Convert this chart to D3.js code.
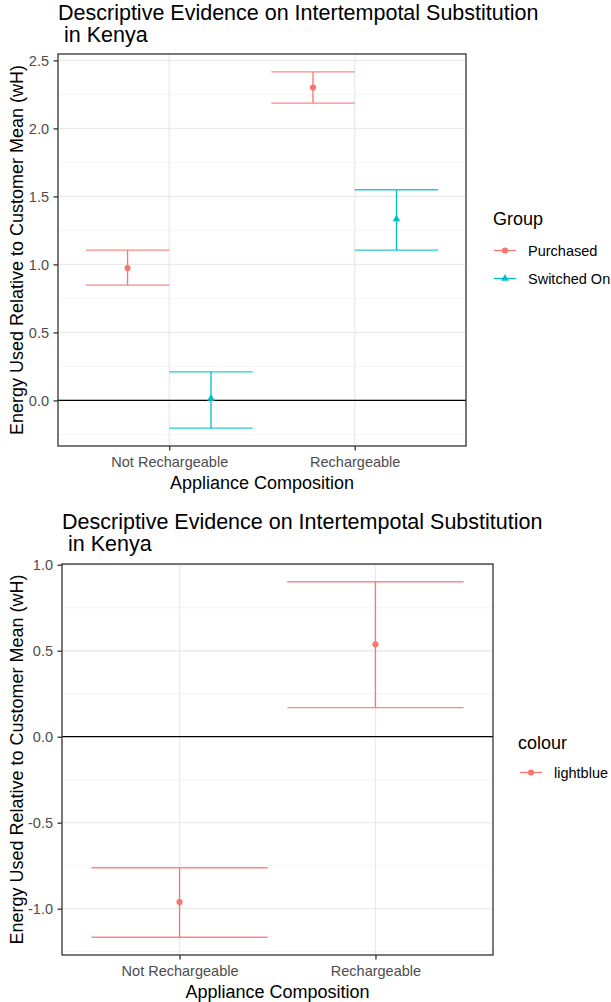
<!DOCTYPE html>
<html>
<head>
<meta charset="utf-8">
<script src="https://d3js.org/d3.v7.min.js"></script>
<style>
    body { margin: 0; background: #fff; }
    svg text { font-family: "Liberation Sans", Arial, sans-serif; }
</style>
</head>
<body>
<div id="graph"></div>
<script>
// data
var categories = ["Not Rechargeable", "Rechargeable"];
var groups = ["Purchased", "Switched On"];

var purchasedMean = [0.973, 2.300];
var purchasedLow = [0.848, 2.186];
var purchasedHigh = [1.105, 2.416];

var switchedMean = [0.015, 1.333];
var switchedLow = [-0.204, 1.105];
var switchedHigh = [0.210, 1.549];

var colourGroups = ["lightblue"];
var colourMean = [-0.961, 0.537];
var colourLow = [-1.166, 0.169];
var colourHigh = [-0.762, 0.901];

var topTicks = [0, 0.5, 1, 1.5, 2, 2.5];
var topMinor = [-0.25, 0.25, 0.75, 1.25, 1.75, 2.25];
var bottomTicks = [-1, -0.5, 0, 0.5, 1];
var bottomMinor = [-1.25, -0.75, -0.25, 0.25, 0.75];

var titleLines = ["Descriptive Evidence on Intertempotal Substitution", " in Kenya"];
var yTitle = "Energy Used Relative to Customer Mean (wH)";
var xTitle = "Appliance Composition";

var palette = ["#F8766D", "#00BFC4"];

var svg = d3.select("#graph").append("svg")
    .attr("width", 611)
    .attr("height", 1002);

function makeRows(means, lows, highs) {
    return categories.map(function(c, i) {
        return { cat: c, mean: means[i], low: lows[i], high: highs[i] };
    });
}

function drawPanel(opt) {
    var left = opt.left, right = opt.right, top = opt.top, bottom = opt.bottom;
    var g = svg.append("g");

    // ggplot style 5% expansion of the data range
    var lo = d3.min(opt.series, function(s) { return d3.min(s.rows, function(r) { return r.low; }); });
    var hi = d3.max(opt.series, function(s) { return d3.max(s.rows, function(r) { return r.high; }); });
    var pad = (hi - lo) * 0.05;

    var y = d3.scaleLinear().domain([lo - pad, hi + pad]).range([bottom, top]);
    var x = d3.scalePoint().domain(categories).range([left, right]).padding(0.6);
    var unit = x.step();

    // grid
    g.selectAll(".minor").data(opt.minor).enter().append("line")
        .attr("x1", left).attr("x2", right)
        .attr("y1", function(d) { return y(d); }).attr("y2", function(d) { return y(d); })
        .attr("stroke", "#F2F2F2").attr("stroke-width", 0.8);
    g.selectAll(".major").data(opt.ticks).enter().append("line")
        .attr("x1", left).attr("x2", right)
        .attr("y1", function(d) { return y(d); }).attr("y2", function(d) { return y(d); })
        .attr("stroke", "#EBEBEB").attr("stroke-width", 1.3);
    g.selectAll(".vmajor").data(categories).enter().append("line")
        .attr("y1", top).attr("y2", bottom)
        .attr("x1", function(d) { return x(d); }).attr("x2", function(d) { return x(d); })
        .attr("stroke", "#EBEBEB").attr("stroke-width", 1.3);

    // zero reference line
    g.append("line")
        .attr("x1", left).attr("x2", right)
        .attr("y1", y(0)).attr("y2", y(0))
        .attr("stroke", "#000").attr("stroke-width", 1.3);

    // error bars and points
    opt.series.forEach(function(s, si) {
        var off = s.offset * unit;
        var half = opt.barWidth / 2 * unit;
        var sg = g.append("g").attr("stroke", s.color).attr("stroke-width", 1.3);
        sg.selectAll(".v").data(s.rows).enter().append("line")
            .attr("x1", function(d) { return x(d.cat) + off; })
            .attr("x2", function(d) { return x(d.cat) + off; })
            .attr("y1", function(d) { return y(d.low); })
            .attr("y2", function(d) { return y(d.high); });
        sg.selectAll(".hh").data(s.rows).enter().append("line")
            .attr("x1", function(d) { return x(d.cat) + off - half; })
            .attr("x2", function(d) { return x(d.cat) + off + half; })
            .attr("y1", function(d) { return y(d.high); })
            .attr("y2", function(d) { return y(d.high); })
            .attr("stroke-opacity", 0.85);
        sg.selectAll(".hl").data(s.rows).enter().append("line")
            .attr("x1", function(d) { return x(d.cat) + off - half; })
            .attr("x2", function(d) { return x(d.cat) + off + half; })
            .attr("y1", function(d) { return y(d.low); })
            .attr("y2", function(d) { return y(d.low); })
            .attr("stroke-opacity", 0.85);
        g.selectAll(".pt" + si).data(s.rows).enter().append("path")
            .attr("d", d3.symbol().type(s.shape).size(s.shape === d3.symbolCircle ? 30 : 26))
            .attr("transform", function(d) {
                return "translate(" + (x(d.cat) + off) + "," + y(d.mean) + ")";
            })
            .attr("fill", s.color);
    });

    // panel border
    g.append("rect")
        .attr("x", left).attr("y", top)
        .attr("width", right - left).attr("height", bottom - top)
        .attr("fill", "none").attr("stroke", "#333").attr("stroke-width", 1.3);

    // axes
    var yAxis = d3.axisLeft(y).tickValues(opt.ticks).tickSize(4.5).tickPadding(4.5)
        .tickFormat(function(d) { return d.toFixed(1); });
    var gY = g.append("g").attr("transform", "translate(" + left + ",0)").call(yAxis);
    var xAxis = d3.axisBottom(x).tickSize(4.5).tickPadding(6);
    var gX = g.append("g").attr("transform", "translate(0," + bottom + ")").call(xAxis);
    [gX, gY].forEach(function(a) {
        a.select(".domain").remove();
        a.selectAll(".tick line").attr("stroke", "#333").attr("stroke-width", 1.3);
        a.selectAll(".tick text")
            .attr("fill", "#4D4D4D")
            .style("font-size", "14.5px")
            .style("font-family", "'Liberation Sans', Arial, sans-serif");
    });

    // titles
    g.selectAll(".title").data(titleLines).enter().append("text")
        .attr("x", left)
        .attr("y", function(d, i) { return opt.titleY + i * 22; })
        .attr("xml:space", "preserve")
        .style("font-size", "21.5px")
        .attr("fill", "#000")
        .text(function(d) { return d; });

    g.append("text")
        .attr("transform", "translate(" + opt.yTitleX + "," + ((top + bottom) / 2) + ") rotate(-90)")
        .attr("text-anchor", "middle")
        .style("font-size", "18px")
        .text(yTitle);

    g.append("text")
        .attr("x", (left + right) / 2)
        .attr("y", opt.xTitleY)
        .attr("text-anchor", "middle")
        .style("font-size", "18px")
        .text(xTitle);

    // legend
    var lg = opt.legend;
    g.append("text")
        .attr("x", lg.x).attr("y", lg.y)
        .style("font-size", "18px")
        .text(lg.title);
    var items = g.selectAll(".leg").data(opt.series).enter().append("g")
        .attr("transform", function(d, i) {
            return "translate(" + lg.x + "," + (lg.firstY + i * 28) + ")";
        });
    items.append("line")
        .attr("x1", lg.keyX).attr("x2", lg.keyX + 22)
        .attr("stroke", function(d) { return d.color; })
        .attr("stroke-width", 1.3);
    items.append("path")
        .attr("d", function(d) { return d3.symbol().type(d.shape).size(d.shape === d3.symbolCircle ? 30 : 26)(); })
        .attr("transform", "translate(" + (lg.keyX + 11) + ",0)")
        .attr("fill", function(d) { return d.color; });
    items.append("text")
        .attr("x", lg.textX)
        .attr("y", 5.5)
        .style("font-size", "14.5px")
        .attr("fill", "#000")
        .text(function(d) { return d.name; });
}

drawPanel({
    left: 58, right: 466, top: 54, bottom: 446,
    ticks: topTicks, minor: topMinor,
    barWidth: 0.45,
    titleY: 20, yTitleX: 23, xTitleY: 489,
    series: [
        { name: groups[0], color: palette[0], shape: d3.symbolCircle, offset: -0.225,
          rows: makeRows(purchasedMean, purchasedLow, purchasedHigh) },
        { name: groups[1], color: palette[1], shape: d3.symbolTriangle, offset: 0.225,
          rows: makeRows(switchedMean, switchedLow, switchedHigh) }
    ],
    legend: { title: "Group", x: 493, y: 225, firstY: 250.5, keyX: 1, textX: 35 }
});

drawPanel({
    left: 62, right: 493, top: 564, bottom: 955,
    ticks: bottomTicks, minor: bottomMinor,
    barWidth: 0.9,
    titleY: 529, yTitleX: 23, xTitleY: 998,
    series: [
        { name: colourGroups[0], color: palette[0], shape: d3.symbolCircle, offset: 0,
          rows: makeRows(colourMean, colourLow, colourHigh) }
    ],
    legend: { title: "colour", x: 518, y: 749, firstY: 772.5, keyX: 2, textX: 36 }
});
</script>
</body>
</html>
